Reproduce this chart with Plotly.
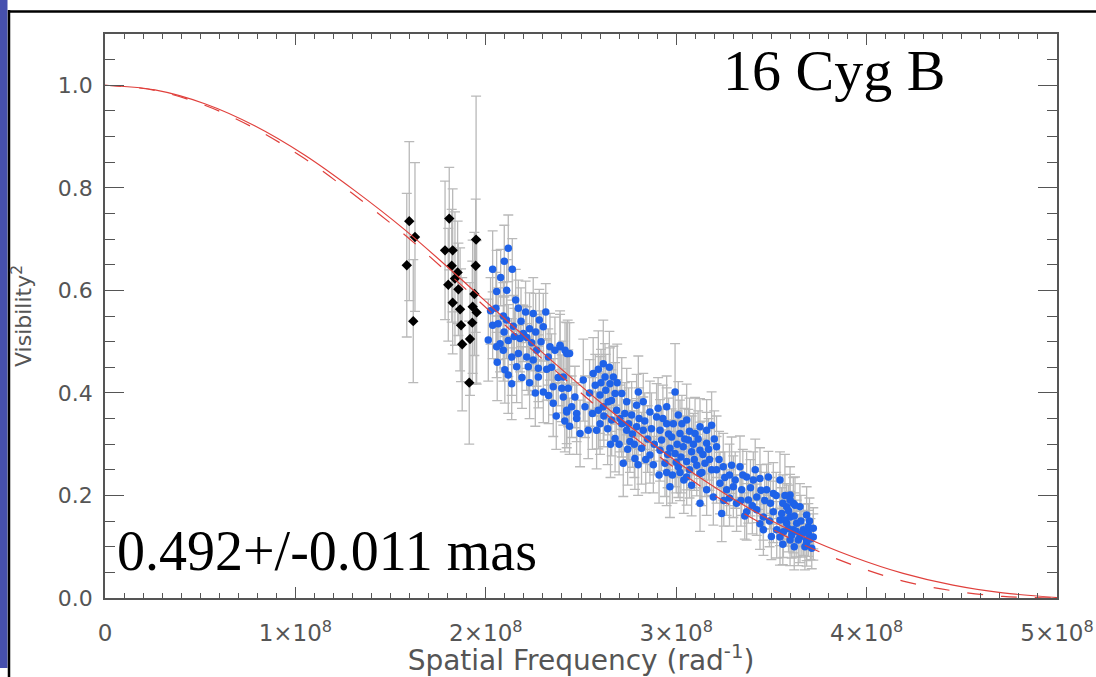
import plotly.graph_objects as go

E8 = 1e8

# ---------------- data (spatial frequency in units of 1e8 rad^-1) ----------------
BLACK_F = [1.585, 1.598, 1.628, 1.619, 1.786, 1.808, 1.826, 1.821, 1.852, 1.838, 1.803, 1.856,
           1.826, 1.865, 1.870, 1.876, 1.949, 1.947, 1.940, 1.931, 1.952, 1.929, 1.917, 1.913]
BLACK_V = [0.649, 0.735, 0.704, 0.540, 0.678, 0.740, 0.678, 0.648, 0.635, 0.623, 0.611, 0.602,
           0.576, 0.563, 0.532, 0.495, 0.699, 0.648, 0.593, 0.568, 0.557, 0.537, 0.505, 0.420]
BLACK_E = [0.140, 0.155, 0.145, 0.120, 0.135, 0.100, 0.120, 0.110, 0.100, 0.130, 0.110, 0.090,
           0.100, 0.120, 0.110, 0.130, 0.280, 0.130, 0.120, 0.130, 0.140, 0.120, 0.110, 0.120]

BLUE_A_F = [2.118, 2.097, 2.139, 2.036, 2.078, 2.057, 2.157, 2.053, 2.092, 2.171,
            2.209, 2.249, 2.315, 2.109, 2.144, 2.036, 2.096, 2.197, 2.281, 2.302,
            2.262, 2.013, 2.057, 2.075, 2.118, 2.180, 2.215, 2.241, 2.337, 2.390,
            2.092, 2.136, 2.171, 2.215, 2.249, 2.267, 2.328, 2.363, 2.425, 2.162,
            2.223, 2.276, 2.320, 2.118, 2.276, 2.354, 2.399, 2.136, 2.302, 2.407,
            2.354, 2.451, 2.425, 2.477,
            2.025, 2.065, 2.110, 2.150, 2.185, 2.230, 2.290, 2.345, 2.380, 2.230,
            2.190, 2.260, 2.330, 2.060, 2.100, 2.415, 2.440, 2.370]
BLUE_A_V = [0.682, 0.657, 0.641, 0.641, 0.625, 0.598, 0.581, 0.565, 0.550, 0.565,
            0.558, 0.555, 0.558, 0.542, 0.530, 0.532, 0.519, 0.516, 0.542, 0.529,
            0.519, 0.503, 0.490, 0.496, 0.502, 0.506, 0.508, 0.498, 0.490, 0.490,
            0.483, 0.470, 0.477, 0.470, 0.464, 0.483, 0.470, 0.483, 0.477, 0.451,
            0.451, 0.448, 0.446, 0.435, 0.431, 0.412, 0.409, 0.418, 0.402, 0.392,
            0.380, 0.373, 0.363, 0.360,
            0.560, 0.535, 0.600, 0.510, 0.540, 0.525, 0.500, 0.450, 0.430, 0.420,
            0.430, 0.400, 0.395, 0.460, 0.445, 0.345, 0.335, 0.355]
BLUE_A_E = [0.065, 0.070, 0.060, 0.075, 0.055, 0.080, 0.060, 0.070, 0.065, 0.055,
            0.060, 0.070, 0.055, 0.075, 0.060, 0.065, 0.070, 0.055, 0.060, 0.065,
            0.075, 0.080, 0.060, 0.055, 0.070, 0.065, 0.060, 0.055, 0.065, 0.070,
            0.060, 0.075, 0.055, 0.065, 0.060, 0.070, 0.055, 0.065, 0.060, 0.070,
            0.055, 0.065, 0.060, 0.075, 0.060, 0.055, 0.065, 0.070, 0.060, 0.055,
            0.065, 0.060, 0.070, 0.055,
            0.065, 0.070, 0.060, 0.055, 0.065, 0.070, 0.060, 0.065, 0.055, 0.070,
            0.060, 0.065, 0.055, 0.075, 0.065, 0.060, 0.055, 0.065]

BLUE_B_F = [2.390, 2.416, 2.430, 2.440, 2.407, 2.433, 2.468, 2.425, 2.477, 2.521,
            2.495, 2.538, 2.512, 2.564, 2.591, 2.617, 2.649, 2.626, 2.670, 2.652,
            2.600, 2.643, 2.679, 2.714, 2.617, 2.591, 2.687, 2.740, 2.801, 2.792,
            2.766, 2.827, 2.862, 2.661, 2.714, 2.600, 2.582, 2.679, 2.740, 2.792,
            2.827, 2.757, 2.818, 2.722, 2.783, 2.862, 2.897, 2.915, 2.950, 2.994,
            2.950, 3.011, 3.055, 2.923, 2.976, 3.020, 3.064, 3.099, 3.125, 3.160,
            3.186, 2.915, 2.967, 2.994, 3.037, 3.081, 3.125, 3.160, 2.941, 3.011,
            3.055, 3.108, 3.151, 3.212, 3.040, 2.980, 2.967,
            2.545, 2.560, 2.575, 2.605, 2.630, 2.660, 2.690, 2.705, 2.730, 2.750,
            2.770, 2.700, 2.745, 2.780, 2.805, 2.835, 2.850, 2.870, 2.885, 2.840,
            2.880, 2.905, 2.930, 2.960, 2.985, 3.005, 3.030, 3.045, 3.070, 3.090,
            3.115, 3.140, 3.170, 3.200, 2.955, 3.000, 3.025, 3.070, 3.095, 3.135,
            3.175, 3.020, 2.950, 2.640, 2.620, 2.655, 2.800, 2.910]
BLUE_B_V = [0.493, 0.483, 0.477, 0.477, 0.431, 0.409, 0.392, 0.366, 0.350, 0.373,
            0.321, 0.327, 0.425, 0.438, 0.446, 0.457, 0.450, 0.431, 0.431, 0.418,
            0.396, 0.383, 0.399, 0.399, 0.373, 0.366, 0.366, 0.383, 0.402, 0.376,
            0.357, 0.383, 0.363, 0.347, 0.340, 0.340, 0.327, 0.311, 0.327, 0.334,
            0.327, 0.305, 0.292, 0.263, 0.272, 0.279, 0.353, 0.327, 0.340, 0.402,
            0.373, 0.357, 0.347, 0.308, 0.314, 0.321, 0.308, 0.321, 0.334, 0.327,
            0.337, 0.288, 0.292, 0.282, 0.295, 0.285, 0.288, 0.302, 0.263, 0.256,
            0.266, 0.259, 0.263, 0.295, 0.230, 0.240, 0.217,
            0.400, 0.360, 0.415, 0.420, 0.405, 0.385, 0.420, 0.350, 0.360, 0.340,
            0.320, 0.300, 0.290, 0.300, 0.350, 0.345, 0.310, 0.330, 0.300, 0.270,
            0.260, 0.370, 0.350, 0.320, 0.340, 0.300, 0.340, 0.310, 0.325, 0.300,
            0.310, 0.280, 0.290, 0.310, 0.280, 0.265, 0.275, 0.250, 0.270, 0.245,
            0.270, 0.245, 0.245, 0.330, 0.355, 0.300, 0.260, 0.240]
BLUE_B_E = [0.060, 0.055, 0.065, 0.060, 0.070, 0.075, 0.060, 0.065, 0.070, 0.060,
            0.065, 0.055, 0.080, 0.070, 0.075, 0.085, 0.070, 0.065, 0.060, 0.070,
            0.075, 0.065, 0.060, 0.070, 0.065, 0.075, 0.060, 0.065, 0.070, 0.060,
            0.065, 0.055, 0.060, 0.070, 0.065, 0.060, 0.075, 0.065, 0.060, 0.055,
            0.065, 0.060, 0.070, 0.065, 0.060, 0.055, 0.065, 0.060, 0.070, 0.094,
            0.060, 0.065, 0.070, 0.060, 0.055, 0.065, 0.060, 0.070, 0.055, 0.060,
            0.065, 0.060, 0.055, 0.065, 0.060, 0.070, 0.055, 0.060, 0.065, 0.060,
            0.055, 0.060, 0.065, 0.060, 0.065, 0.055, 0.060,
            0.065, 0.070, 0.060, 0.065, 0.070, 0.060, 0.075, 0.065, 0.060, 0.070,
            0.065, 0.060, 0.070, 0.065, 0.060, 0.055, 0.065, 0.070, 0.060, 0.065,
            0.055, 0.060, 0.065, 0.070, 0.060, 0.065, 0.055, 0.060, 0.065, 0.060,
            0.055, 0.065, 0.060, 0.055, 0.065, 0.060, 0.070, 0.055, 0.060, 0.065,
            0.060, 0.055, 0.065, 0.070, 0.060, 0.065, 0.060, 0.055]

BLUE_C_F = [3.055, 3.125, 3.186, 3.247, 3.291, 3.335, 3.370, 3.405, 3.440, 3.484,
            3.545, 3.475, 3.510, 3.598, 3.615, 3.650, 3.685, 3.212, 3.081, 3.125,
            3.160, 3.195, 3.230, 3.265, 3.239, 3.300, 3.344, 3.317, 3.379, 3.423,
            3.370, 3.423, 3.458, 3.510, 3.545, 3.580, 3.458, 3.528, 3.615, 3.650,
            3.685, 3.598, 3.545, 3.694, 3.571, 3.598, 3.624, 3.580, 3.554, 3.571,
            3.598, 3.633, 3.668, 3.694, 3.720, 3.563, 3.607, 3.641, 3.685, 3.676,
            3.712, 3.720,
            3.225, 3.255, 3.280, 3.310, 3.350, 3.390, 3.415, 3.445, 3.465, 3.495,
            3.525, 3.560, 3.590, 3.620, 3.655, 3.700, 3.705, 3.660, 3.630, 3.590,
            3.490, 3.400, 3.340, 3.280, 3.250, 3.360, 3.440, 3.500, 3.560, 3.620]
BLUE_C_V = [0.236, 0.243, 0.250, 0.256, 0.259, 0.256, 0.236, 0.230, 0.233, 0.236,
            0.230, 0.211, 0.204, 0.201, 0.185, 0.178, 0.162, 0.250, 0.220, 0.185,
            0.211, 0.197, 0.224, 0.211, 0.165, 0.217, 0.211, 0.185, 0.191, 0.197,
            0.168, 0.172, 0.158, 0.168, 0.152, 0.146, 0.133, 0.133, 0.133, 0.119,
            0.107, 0.113, 0.119, 0.126, 0.200, 0.191, 0.181, 0.178, 0.165, 0.152,
            0.158, 0.146, 0.133, 0.139, 0.136, 0.129, 0.123, 0.113, 0.113, 0.100,
            0.097, 0.119,
            0.270, 0.235, 0.240, 0.230, 0.240, 0.215, 0.250, 0.210, 0.190, 0.185,
            0.200, 0.185, 0.170, 0.160, 0.150, 0.150, 0.115, 0.125, 0.130, 0.135,
            0.150, 0.180, 0.190, 0.195, 0.190, 0.160, 0.145, 0.120, 0.105, 0.100]
BLUE_C_E = [0.055, 0.060, 0.050, 0.065, 0.055, 0.060, 0.050, 0.055, 0.060, 0.050,
            0.055, 0.050, 0.060, 0.055, 0.050, 0.045, 0.055, 0.065, 0.060, 0.055,
            0.050, 0.055, 0.060, 0.050, 0.055, 0.060, 0.050, 0.055, 0.045, 0.050,
            0.055, 0.050, 0.045, 0.060, 0.050, 0.045, 0.050, 0.055, 0.045, 0.050,
            0.045, 0.050, 0.055, 0.045, 0.080, 0.050, 0.055, 0.045, 0.050, 0.045,
            0.050, 0.045, 0.050, 0.045, 0.040, 0.050, 0.045, 0.050, 0.040, 0.045,
            0.040, 0.045,
            0.055, 0.050, 0.060, 0.055, 0.050, 0.055, 0.060, 0.050, 0.055, 0.050,
            0.045, 0.055, 0.050, 0.045, 0.050, 0.045, 0.040, 0.045, 0.050, 0.045,
            0.050, 0.055, 0.050, 0.055, 0.050, 0.045, 0.050, 0.045, 0.040, 0.045]

# model curves
MODEL_F = [0, 0.262, 0.524, 0.786, 1.048, 1.310, 1.572, 1.834, 2.096, 2.358,
           2.620, 2.882, 3.144, 3.406, 3.668, 3.930, 4.192, 4.454, 4.716, 5.0]
SOLID_V = [1.0, 0.991, 0.964, 0.921, 0.864, 0.795, 0.719, 0.634, 0.546, 0.459,
           0.376, 0.299, 0.230, 0.170, 0.120, 0.080, 0.048, 0.025, 0.010, 0.001]
DASH_V = [1.0, 0.990, 0.961, 0.916, 0.857, 0.786, 0.709, 0.623, 0.534, 0.446,
          0.362, 0.284, 0.214, 0.154, 0.104, 0.064, 0.033, 0.014, 0.003, 0.0]

X_TICKS = [0, 1, 2, 3, 4, 5]
X_TICKTEXT = ["0", "1×10<sup>8</sup>", "2×10<sup>8</sup>", "3×10<sup>8</sup>",
              "4×10<sup>8</sup>", "5×10<sup>8</sup>"]

# ---------------- layout geometry ----------------
W, H = 1096, 677
ML, MR, MT, MB = 105, 39, 34, 79
PW, PH = W - ML - MR, H - MT - MB


def px(x):
    return (x - ML) / PW


def py(y):
    return (H - MB - y) / PH


GRAY = "#555555"
ERR = "#b9b9b9"
BLUE = "#1f62e8"
RED = "#e0403c"

fig = go.Figure()


def pick(a, b, c):
    k = min(len(a), len(b), len(c))
    return a[:k], b[:k], c[:k]


parts = [pick(BLUE_A_F, BLUE_A_V, BLUE_A_E), pick(BLUE_B_F, BLUE_B_V, BLUE_B_E),
         pick(BLUE_C_F, BLUE_C_V, BLUE_C_E)]
blue_f = [v for p in parts for v in p[0]]
blue_v = [v for p in parts for v in p[1]]
blue_e = [v for p in parts for v in p[2]]

errstyle = dict(type="data", color=ERR, thickness=1.3, width=5)

fig.add_trace(go.Scatter(x=[f * E8 for f in BLACK_F], y=BLACK_V, mode="markers",
                         marker=dict(size=2, opacity=0),
                         error_y=dict(array=BLACK_E, **errstyle),
                         hoverinfo="skip", showlegend=False))
fig.add_trace(go.Scatter(x=[f * E8 for f in blue_f], y=blue_v, mode="markers",
                         marker=dict(size=2, opacity=0),
                         error_y=dict(array=blue_e, **errstyle),
                         hoverinfo="skip", showlegend=False))
fig.add_trace(go.Scatter(x=[f * E8 for f in BLACK_F], y=BLACK_V, mode="markers",
                         marker=dict(symbol="diamond", size=8, color="black"),
                         showlegend=False))
fig.add_trace(go.Scatter(x=[f * E8 for f in blue_f], y=blue_v, mode="markers",
                         marker=dict(symbol="circle", size=7.5, color=BLUE),
                         showlegend=False))
fig.add_trace(go.Scatter(x=[f * E8 for f in MODEL_F], y=DASH_V, mode="lines",
                         line=dict(color=RED, width=1.2, dash="16px,18px", shape="spline"),
                         showlegend=False))
fig.add_trace(go.Scatter(x=[f * E8 for f in MODEL_F], y=SOLID_V, mode="lines",
                         line=dict(color=RED, width=1.2, shape="spline"),
                         showlegend=False))

fig.update_xaxes(
    range=[0, 5 * E8], tickvals=[t * E8 for t in X_TICKS], ticktext=X_TICKTEXT,
    ticks="inside", ticklen=11, tickwidth=1.3, tickcolor=GRAY,
    minor=dict(ticks="inside", dtick=1e7, ticklen=5.5, tickwidth=1.1, tickcolor=GRAY),
    showline=True, linecolor=GRAY, linewidth=1.5, mirror="allticks",
    showgrid=False, zeroline=False, ticklabelstandoff=14, automargin=False,
    tickfont=dict(family="DejaVu Sans", size=23, color=GRAY),
    title=dict(text="Spatial Frequency (rad<sup>-1</sup>)",
               font=dict(family="DejaVu Sans", size=28, color=GRAY), standoff=2),
)
fig.update_yaxes(
    range=[0, 1.1], tick0=0, dtick=0.2, tickformat=".1f",
    ticks="inside", ticklen=19, tickwidth=1.3, tickcolor=GRAY,
    minor=dict(ticks="inside", dtick=0.05, ticklen=10, tickwidth=1.1, tickcolor=GRAY),
    showline=True, linecolor=GRAY, linewidth=1.5, mirror="allticks",
    showgrid=False, zeroline=False, ticklabelstandoff=6, automargin=False,
    tickfont=dict(family="DejaVu Sans", size=22, color=GRAY),
    title=dict(text="Visibility<sup>2</sup>",
               font=dict(family="DejaVu Sans", size=22, color=GRAY), standoff=20),
)

fig.update_layout(
    width=W, height=H,
    margin=dict(l=ML, r=MR, t=MT, b=MB, autoexpand=False),
    paper_bgcolor="white", plot_bgcolor="white",
    showlegend=False,
    annotations=[
        dict(text="16 Cyg B", xref="paper", yref="paper", x=px(721), y=py(71),
             xanchor="left", yanchor="middle", showarrow=False,
             font=dict(family="Liberation Serif", size=58, color="black")),
        dict(text="0.492+/-0.011 mas", xref="paper", yref="paper", x=px(115), y=py(551),
             xanchor="left", yanchor="middle", showarrow=False,
             font=dict(family="Liberation Serif", size=56, color="black")),
    ],
    shapes=[
        dict(type="rect", xref="paper", yref="paper", x0=px(0), x1=px(7.5),
             y0=py(668), y1=py(0), fillcolor="#4650ae", line=dict(width=0), layer="above"),
        dict(type="line", xref="paper", yref="paper", x0=px(9), x1=px(9),
             y0=py(677), y1=py(10), line=dict(color="black", width=2.5), layer="above"),
        dict(type="line", xref="paper", yref="paper", x0=px(8), x1=px(1096),
             y0=py(11.5), y1=py(11.5), line=dict(color="black", width=2.5), layer="above"),
    ],
)

fig.write_html("out.html")
